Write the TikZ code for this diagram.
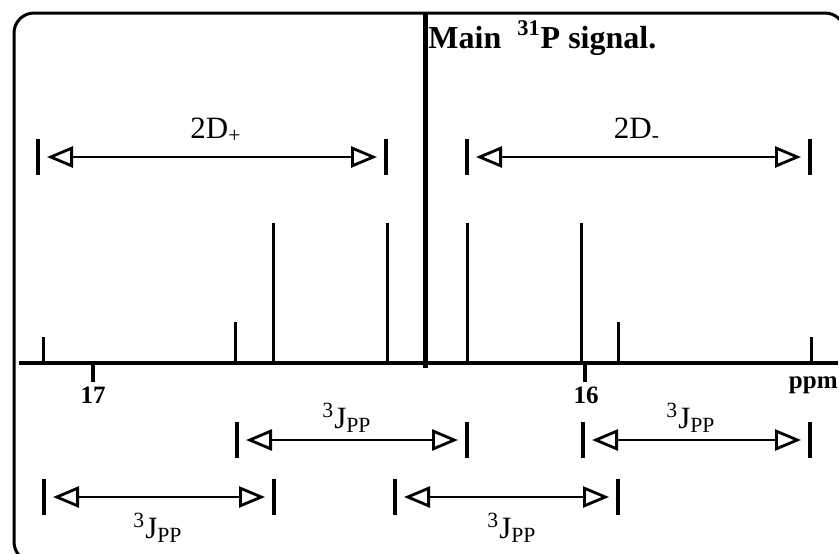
\documentclass[tikz,border=0pt]{standalone}
\usepackage{fontspec}
\setmainfont{Liberation Serif}
\usetikzlibrary{arrows.meta}
\tikzset{
  marco/.style={line width=1.5pt, rounded corners=10pt},
  eje/.style={line width=2pt},
  pico/.style={line width=1.5pt},
  barra/.style={fill=black, minimum width=2pt, minimum height=18pt, inner sep=0pt, outer sep=0pt},
  fl/.style={{Triangle[open,length=13pt,width=10.5pt,line width=1.4pt]}-{Triangle[open,length=13pt,width=10.5pt,line width=1.4pt]}, line width=1.2pt, shorten <=3.5pt, shorten >=3.5pt},
  et/.style={inner sep=0pt, font=\fontsize{15.5}{18}\selectfont},
  num/.style={inner sep=0pt, font=\bfseries\fontsize{12.5}{15}\selectfont},
}
\begin{document}
\begin{tikzpicture}[x=0.5pt, y=-0.5pt]
  \clip (0,0) rectangle (839,553);
  \draw[marco] (14,13) rectangle (845,562);
  \draw[eje] (19,363) -- (838,363);
  \foreach \x/\h in {43/337, 235/322, 273/223, 387/223, 467/223, 581/223, 618/322, 811/337}
    \draw[pico] (\x,363) -- (\x,\h);
  \draw[line width=2.5pt] (425,13) -- (425,368);
  \draw[eje] (93,363) -- (93,382);
  \draw[eje] (585,363) -- (585,382);
  \node[num] (t17) at (93,395) {17};
  \node[num] (t16) at (586,395) {16};
  \node[num, anchor=east] (ppm) at (838,385) {ppm};
  \node[anchor=base west, inner sep=0pt, font=\bfseries\fontsize{16}{19}\selectfont] (main) at (428,48) {Main\ \ \textsuperscript{31}P signal.};
  \node[barra] (dp1) at (38,157) {};
  \node[barra] (dp2) at (386,157) {};
  \node[barra] (dm1) at (467,157) {};
  \node[barra] (dm2) at (810,157) {};
  \draw[fl] (dp1) -- (dp2);
  \draw[fl] (dm1) -- (dm2);
  \node[et] (ldp) at (216,130) {2D\textsubscript{+}};
  \node[et] (ldm) at (637,130) {2D\textsubscript{-}};
  \node[barra] (ja1) at (237,440) {};
  \node[barra] (ja2) at (467,440) {};
  \node[barra] (jb1) at (583,440) {};
  \node[barra] (jb2) at (810,440) {};
  \node[barra] (jc1) at (44,497) {};
  \node[barra] (jc2) at (274,497) {};
  \node[barra] (jd1) at (395,497) {};
  \node[barra] (jd2) at (618,497) {};
  \draw[fl] (ja1) -- (ja2);
  \draw[fl] (jb1) -- (jb2);
  \draw[fl] (jc1) -- (jc2);
  \draw[fl] (jd1) -- (jd2);
  \node[et] (lja) at (347,418) {\textsuperscript{3}J\textsubscript{PP}};
  \node[et] (ljb) at (691,418) {\textsuperscript{3}J\textsubscript{PP}};
  \node[et] (ljc) at (158,528) {\textsuperscript{3}J\textsubscript{PP}};
  \node[et] (ljd) at (512,528) {\textsuperscript{3}J\textsubscript{PP}};
\end{tikzpicture}
\end{document}
